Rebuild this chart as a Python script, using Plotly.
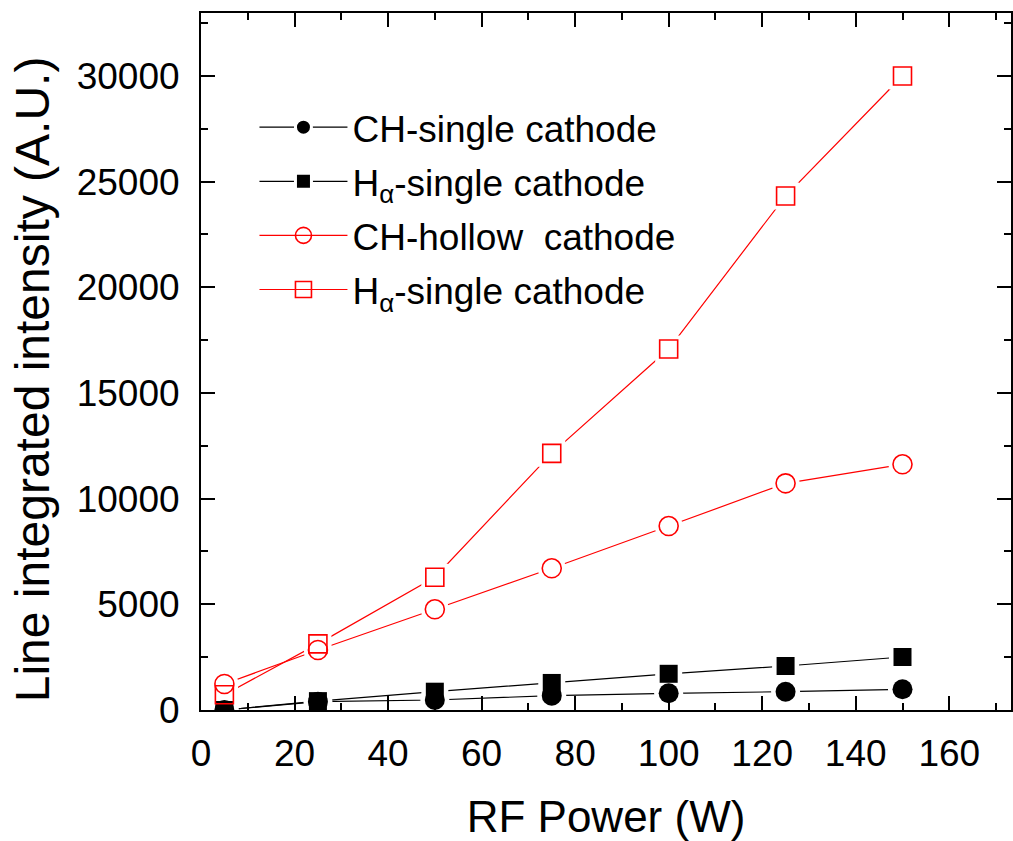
import plotly.graph_objects as go

rf_power = [5, 25, 50, 75, 100, 125, 150]
ch_single = [0, 393, 473, 680, 790, 866, 980]
ha_single = [0, 420, 866, 1280, 1713, 2082, 2508]
ch_hollow = [1230, 2840, 4765, 6705, 8705, 10725, 11625]
ha_hollow = [725, 3130, 6280, 12145, 17080, 24320, 30000]

legend_names = [
    "CH-single cathode",
    "H<sub>α</sub>-single cathode",
    "CH-hollow  cathode",
    "H<sub>α</sub>-single cathode",
]

series = [
    (ch_single, "black", "circle", 20, 0),
    (ha_single, "black", "square", 18, 0),
    (ch_hollow, "#ff0000", "circle-open", 19, 1.6),
    (ha_hollow, "#ff0000", "square-open", 18, 1.6),
]

fig = go.Figure()

# lines
for ys, col, sym, sz, lw in series:
    fig.add_trace(go.Scatter(x=rf_power, y=ys, mode="lines",
                             line=dict(color=col, width=1.2),
                             showlegend=False, hoverinfo="skip"))
# white halos to make gaps around markers
for ys, col, sym, sz, lw in series:
    fig.add_trace(go.Scatter(x=rf_power, y=ys, mode="markers",
                             marker=dict(symbol="circle" if "circle" in sym else "square",
                                         size=sz + 9, color="white",
                                         line=dict(width=0)),
                             showlegend=False, hoverinfo="skip"))
# markers
for ys, col, sym, sz, lw in series:
    fig.add_trace(go.Scatter(x=rf_power, y=ys, mode="markers",
                             marker=dict(symbol=sym, size=sz, color=col,
                                         line=dict(color=col, width=lw)),
                             showlegend=False))
# legend entries
for i, ((ys, col, sym, sz, lw), name) in enumerate(zip(series, legend_names)):
    if lw == 0:
        mk = dict(symbol=sym, size=sz, color=col, line=dict(color="white", width=3))
    else:
        mk = dict(symbol=sym, size=sz, color=col, line=dict(color=col, width=lw))
    fig.add_trace(go.Scatter(x=[None], y=[None], mode="lines+markers", name=name,
                             legendgroup=f"g{i}",
                             line=dict(color=col, width=1.2), marker=mk))

axis_common = dict(
    showline=True, linecolor="black", linewidth=2,
    ticks="inside", ticklen=14, tickwidth=2, tickcolor="black",
    mirror="ticks", showgrid=False, zeroline=False,
)

fig.update_xaxes(
    range=[0, 173.2], dtick=20, tick0=0,
    minor=dict(dtick=10, ticks="inside", ticklen=7, tickwidth=2, tickcolor="black"),
    tickfont=dict(family="Liberation Sans, Arial", size=37, color="black"),
    ticklabelstandoff=10,
    title=dict(text="RF Power (W)", font=dict(family="Liberation Sans, Arial", size=44, color="black"),
               standoff=30),
    **axis_common,
)
fig.update_yaxes(
    range=[0, 32980], dtick=5000, tick0=0, tickformat="d",
    minor=dict(dtick=2500, ticks="inside", ticklen=7, tickwidth=2, tickcolor="black"),
    tickfont=dict(family="Liberation Sans, Arial", size=37, color="black"),
    ticklabelstandoff=12,
    **axis_common,
)

fig.add_annotation(
    text="Line integrated intensity (A.U.)", textangle=-90,
    xref="paper", yref="paper", x=-0.207, y=0.475,
    xanchor="center", yanchor="middle", showarrow=False,
    font=dict(family="Liberation Sans, Arial", size=48, color="black"),
)

fig.update_layout(
    width=1013, height=841,
    margin=dict(l=201, r=0, t=13, b=131),
    paper_bgcolor="white", plot_bgcolor="white",
    showlegend=True,
    legend=dict(x=0.066, y=0.88, xanchor="left", yanchor="top",
                bgcolor="rgba(0,0,0,0)", borderwidth=0,
                font=dict(family="Liberation Sans, Arial", size=37, color="black"),
                itemwidth=88, tracegroupgap=3),
)

fig.write_html("out.html")
